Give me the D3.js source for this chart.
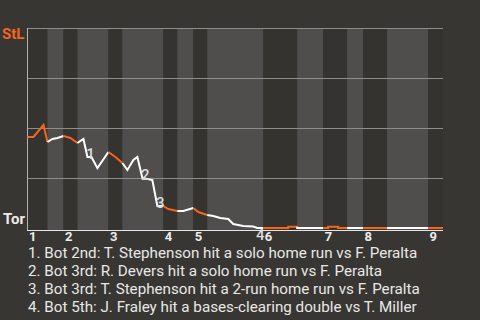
<!DOCTYPE html>
<html>
<head>
<meta charset="utf-8">
<style>
  body { margin: 0; background: #383632; }
  text { font-family: Roboto, "Noto Sans", sans-serif; }
</style>
</head>
<body>
<svg id="chart" width="480" height="320"></svg>
<script src="https://cdn.jsdelivr.net/npm/d3@7"></script>
<script>
// half-inning boundaries (game progress units)
let halfBounds = [0, 10, 18, 25, 40.5, 47.5, 68, 75, 83, 90, 118, 135, 148, 160, 168, 180, 200.5, 208]
let innings = ["1", "2", "3", "4", "5", "6", "7", "8", "9"]

// win probability for StL, by progress
let progress = [0, 3, 8, 10, 12.5, 15, 18, 21.5, 25, 28, 30, 32, 35, 40.5, 44, 47.5,
  50, 53, 55, 57.5, 62.5, 65, 68, 70.5, 75, 78, 83, 85.5, 90,
  93, 96.5, 100.5, 103, 108, 113, 115, 118, 130.5, 130.5, 135, 135,
  148, 150.5, 150.5, 155.5, 155.5, 160, 168, 180, 200.5, 208]
let winProb = [.455, .455, .515, .43, .445, .45, .46, .45, .425, .445, .355, .355, .30, .38, .355, .325,
  .29, .34, .355, .25, .24, .11, .11, .095, .085, .085, .10, .08, .065,
  .06, .05, .045, .02, .01, .0075, 0, 0, 0, .006, .006, 0,
  0, 0, .006, .006, 0, 0, 0, 0, 0, 0]

// key plays: index into progress/winProb
let playIndex = [10, 19, 21, 35]
let playText = [
  "1. Bot 2nd: T. Stephenson hit a solo home run vs F. Peralta",
  "2. Bot 3rd: R. Devers hit a solo home run vs F. Peralta",
  "3. Bot 3rd: T. Stephenson hit a 2-run home run vs F. Peralta",
  "4. Bot 5th: J. Fraley hit a bases-clearing double vs T. Miller"
]
let teams = ["StL", "Tor"]

let orange = "#f4661b"
let svg = d3.select("#chart")

svg.append("rect").attr("width", 480).attr("height", 320).attr("fill", "#383632")

let x = d3.scaleLinear().domain([0, 208]).range([27.5, 443])
let y = d3.scaleLinear().domain([0, 1]).range([228, 28])

// half-inning bands
let bands = d3.pairs(halfBounds)
svg.selectAll("rect.band")
  .data(bands)
  .enter().append("rect")
  .attr("class", "band")
  .attr("x", d => x(d[0]))
  .attr("width", d => x(d[1]) - x(d[0]))
  .attr("y", y(1))
  .attr("height", y(0) - y(1) + 2)
  .attr("fill", (d, i) => i % 2 ? "#4f4e4c" : "#353330")

// grid lines
svg.selectAll("line.grid")
  .data([0.25, 0.5, 0.75, 1])
  .enter().append("line")
  .attr("x1", x(0)).attr("x2", x(208))
  .attr("y1", d => Math.round(y(d)) + 0.5)
  .attr("y2", d => Math.round(y(d)) + 0.5)
  .attr("stroke", "#8e8d89")

svg.append("line")
  .attr("x1", 27.5).attr("x2", 27.5)
  .attr("y1", y(1)).attr("y2", y(0) + 3)
  .attr("stroke", "#b4b3af")

svg.append("line")
  .attr("x1", 27).attr("x2", x(208))
  .attr("y1", y(0) + 2.5).attr("y2", y(0) + 2.5)
  .attr("stroke", "#e6e6e4").attr("stroke-width", 1.2)

// win probability line, one path per half inning
let points = progress.map((p, i) => [p, winProb[i]])
let line = d3.line().x(d => x(d[0])).y(d => y(d[1]))
bands.forEach((b, i) => {
  let seg = points.filter(d => d[0] >= b[0] && d[0] <= b[1])
  svg.append("path")
    .attr("d", line(seg))
    .attr("fill", "none")
    .attr("stroke", i % 2 ? "#ffffff" : orange)
    .attr("stroke-width", 2)
    .attr("stroke-linejoin", "miter")
})

// team labels
svg.append("text").text(teams[0])
  .attr("x", 2).attr("y", 39)
  .attr("fill", orange).attr("font-size", 15).attr("font-weight", "bold")
svg.append("text").text(teams[1])
  .attr("x", 3).attr("y", 224)
  .attr("fill", "#ececea").attr("font-size", 15).attr("font-weight", "bold")

// inning labels at the top of each inning
svg.selectAll("text.inning")
  .data(innings)
  .enter().append("text")
  .attr("class", "inning")
  .text(d => d)
  .attr("x", (d, i) => x(halfBounds[i * 2]) + 1.5)
  .attr("y", 241)
  .attr("fill", "#ececea").attr("font-size", 13).attr("font-weight", "bold")

// key play markers
svg.selectAll("text.play")
  .data(playIndex)
  .enter().append("text")
  .attr("class", "play")
  .text((d, i) => i + 1)
  .attr("x", d => x(progress[d]) + 3)
  .attr("y", d => y(winProb[d]) > 222 ? y(winProb[d]) + 12 : y(winProb[d]) + 2)
  .attr("text-anchor", "middle")
  .attr("fill", "#dcdcda").attr("font-size", 15).attr("font-weight", 500)

// key play list
svg.selectAll("text.note")
  .data(playText)
  .enter().append("text")
  .attr("class", "note")
  .text(d => d)
  .attr("x", 28)
  .attr("y", (d, i) => 258 + i * 18)
  .attr("fill", "#e8e8e6").attr("font-size", 15.2)
</script>
</body>
</html>
